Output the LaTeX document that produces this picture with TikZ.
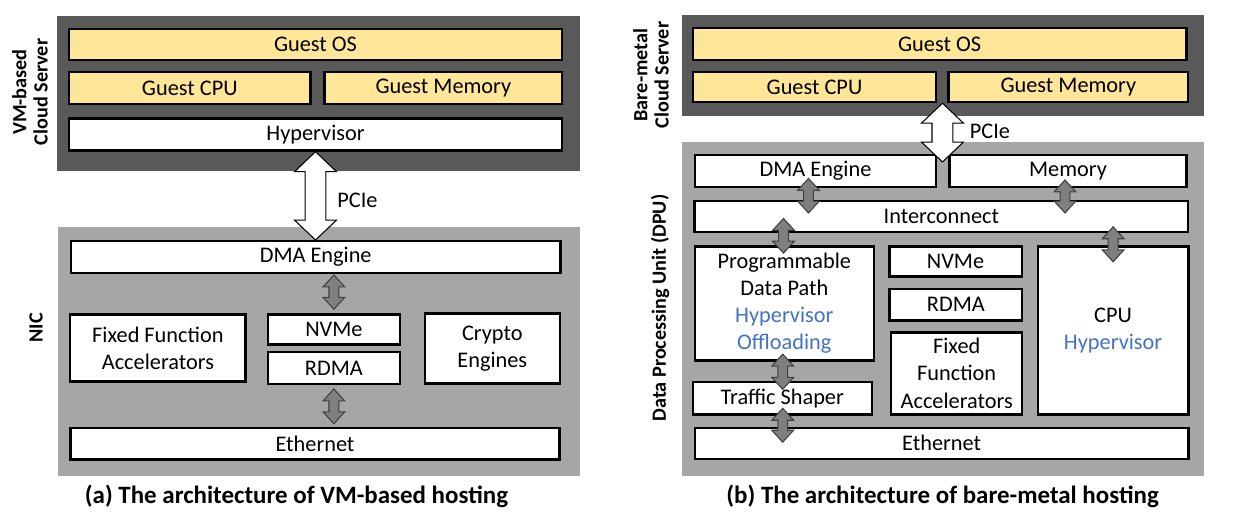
\documentclass[tikz,border=0pt]{standalone}
\usepackage{fontspec}
\setmainfont{Carlito}
\usepackage{tikz}
\usepackage{xcolor}
\usetikzlibrary{calc}
\definecolor{grisFonce}{HTML}{595959}
\definecolor{grisClair}{HTML}{A6A6A6}
\definecolor{jauneInvite}{HTML}{FFE699}
\definecolor{bleuTexte}{HTML}{4472C4}
\definecolor{grisFleche}{HTML}{7F7F7F}
\tikzset{
Fond/.style={
 draw=none,
 inner sep=0pt,
 outer sep=0pt
 },
Texte/.style={
 inner sep=0pt,
 font=\fontsize{12.7}{15.4}\selectfont
 },
Boite/.style={
 draw=black,
 fill=white,
 line width=1.4pt,
 inner sep=0pt,
 align=center,
 font=\fontsize{12.7}{15.4}\selectfont
 },
BoiteInvite/.style={
 Boite,
 fill=jauneInvite
 },
Etiquette/.style={
 rotate=90,
 align=center,
 inner sep=0pt,
 font=\bfseries\fontsize{11.5}{12}\selectfont
 },
Legende/.style={
 inner sep=0pt,
 font=\bfseries\fontsize{14.2}{17}\selectfont
 },
FlecheBloc/.style n args={3}{
 to path={let \p1=(\tikztostart), \p2=(\tikztotarget) in
  -- (\x1+#2,\y1-#3) -- (\x1+#1,\y1-#3) -- (\x1+#1,\y2+#3) -- (\x1+#2,\y2+#3)
  -- (\x1,\y2) -- (\x1-#2,\y2+#3) -- (\x1-#1,\y2+#3) -- (\x1-#1,\y1-#3)
  -- (\x1-#2,\y1-#3) -- cycle}
 },
PFleche/.style={
 draw=black,
 fill=white,
 line width=0.6pt,
 FlecheBloc={5.95pt}{11.9pt}{11.3pt}
 },
GFleche/.style={
 draw=black!75,
 fill=grisFleche,
 line width=0.6pt,
 FlecheBloc={2.8pt}{6.2pt}{6.8pt}
 }
}

\begin{document}
\begin{tikzpicture}[x=0.02cm,y=-0.02cm]
\useasboundingbox (0,0) rectangle (1250,517);
\node[Fond, fill=grisFonce, minimum width=10.45cm, minimum height=3.09cm] (srvA) at (318.6,93.4) {};
\node[BoiteInvite, minimum width=9.86cm, minimum height=0.62cm] (gosA) at (315.5,44.4) {Guest OS};
\node[BoiteInvite, minimum width=4.83cm, minimum height=0.64cm] (gcpuA) at (189.8,87.9) {Guest CPU};
\node[BoiteInvite, minimum width=4.75cm, minimum height=0.64cm] (gmemA) at (443.4,87.9) {Guest Memory};
\node[Boite, minimum width=9.86cm, minimum height=0.64cm] (hypA) at (315.5,134.5) {Hypervisor};
\node[Fond, fill=grisClair, minimum width=10.43cm, minimum height=4.98cm] (nicA) at (319,351.2) {};
\node[Boite, minimum width=9.79cm, minimum height=0.63cm] (dmaA) at (315.7,257) {DMA Engine};
\node[Boite, minimum width=3.51cm, minimum height=1.34cm] (ffaA) at (157.9,348) {Fixed Function\\Accelerators};
\node[Boite, minimum width=2.64cm, minimum height=0.6cm] (nvmeA) at (333.9,329.5) {NVMe};
\node[Boite, minimum width=2.64cm, minimum height=0.63cm] (rdmaA) at (333.9,368) {RDMA};
\node[Boite, minimum width=2.7cm, minimum height=1.4cm] (cryA) at (492.3,348.7) {Crypto\\Engines};
\node[Boite, minimum width=9.79cm, minimum height=0.63cm] (ethA) at (315,443.7) {Ethernet};
\draw[PFleche] (hypA.south) to (dmaA.north);
\draw[GFleche] ($(nvmeA.north |- dmaA.south)+(0,1)$) to ($(nvmeA.north)+(0,-4)$);
\draw[GFleche] ($(rdmaA.south)+(0,4)$) to ($(ethA.north)+(0,-3)$);
\node[Texte, anchor=west] (pcieA) at (337,200) {PCIe};
\node[Etiquette] (lblA) at (30,92) {VM-based\\Cloud Server};
\node[Etiquette] (lblNic) at (36,328) {NIC};
\node[Legende] (capA) at (296.5,496.7) {(a) The architecture of VM-based hosting};

\node[Fond, fill=grisFonce, minimum width=10.45cm, minimum height=2.01cm] (srvB) at (942.7,65.4) {};
\node[BoiteInvite, minimum width=9.87cm, minimum height=0.64cm] (gosB) at (939.6,43.9) {Guest OS};
\node[BoiteInvite, minimum width=4.87cm, minimum height=0.6cm] (gcpuB) at (814.5,87) {Guest CPU};
\node[BoiteInvite, minimum width=4.79cm, minimum height=0.6cm] (gmemB) at (1068.4,87) {Guest Memory};
\node[Fond, fill=grisClair, minimum width=10.46cm, minimum height=6.67cm] (dpuB) at (943,309) {};
\node[Boite, minimum width=4.83cm, minimum height=0.64cm] (dmaB) at (815.5,171.2) {DMA Engine};
\node[Boite, minimum width=4.74cm, minimum height=0.63cm] (memB) at (1068,171) {Memory};
\node[Boite, minimum width=9.87cm, minimum height=0.62cm] (icB) at (941.4,216.7) {Interconnect};
\node[Boite, minimum width=3.58cm, minimum height=2.28cm] (pdpB) at (784.3,303.3) {Programmable\\Data Path\\\textcolor{bleuTexte}{Hypervisor}\\\textcolor{bleuTexte}{Offloading}};
\node[Boite, minimum width=2.65cm, minimum height=0.6cm] (nvmeB) at (955.5,261.3) {NVMe};
\node[Boite, minimum width=2.65cm, minimum height=0.63cm] (rdmaB) at (955.9,304.7) {RDMA};
\node[Boite, minimum width=2.62cm, minimum height=1.64cm] (ffaB) at (956.7,373.3) {Fixed\\Function\\Accelerators};
\node[Boite, minimum width=3.01cm, minimum height=3.36cm] (cpuB) at (1113.1,330.3) {CPU\\\textcolor{bleuTexte}{Hypervisor}};
\node[Boite, minimum width=3.58cm, minimum height=0.65cm] (tsB) at (782.3,398.2) {Traffic Shaper};
\node[Boite, minimum width=9.87cm, minimum height=0.62cm] (ethB) at (941.6,443.3) {Ethernet};
\draw[PFleche] ($(gcpuB.south east)!.5!(gmemB.south west)$) to ($(dmaB.north)+(0,8)$);
\draw[GFleche] ($(dmaB.south)+(-7,-10)$) to ($(icB.north)+(0,13)$);
\draw[GFleche] ($(memB.south)+(-3,-8)$) to ($(icB.north)+(0,13)$);
\draw[GFleche] ($(pdpB.north |- icB.south)+(-0.8,-15)$) to ($(pdpB.north)+(0,8)$);
\draw[GFleche] ($(cpuB.north |- icB.south)+(0,-6.6)$) to ($(cpuB.north)+(0,16.7)$);
\draw[GFleche] ($(pdpB.south)+(-1.6,-7.4)$) to ($(tsB.north)+(0,8.6)$);
\draw[GFleche] ($(tsB.south)+(0.4,-7.4)$) to ($(ethB.north)+(0,15.6)$);
\node[Texte, anchor=west] (pcieB) at (969.5,131.7) {PCIe};
\node[Etiquette] (lblB) at (651,75) {Bare-metal\\Cloud Server};
\node[Etiquette] (lblDpu) at (660,308) {Data Processing Unit (DPU)};
\node[Legende] (capB) at (942.6,496.7) {(b) The architecture of bare-metal hosting};
\end{tikzpicture}
\end{document}
